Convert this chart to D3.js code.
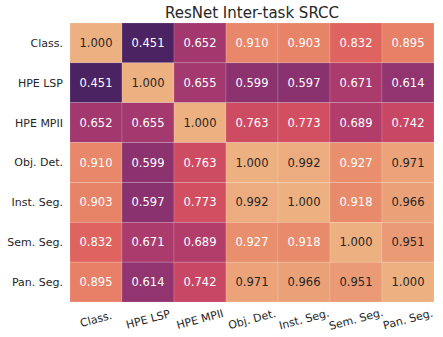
<!DOCTYPE html>
<html>
<head>
<meta charset="utf-8">
<script src="https://cdn.jsdelivr.net/npm/d3@7"></script>
<style>
  body { margin: 0; background: #fff; }
  svg { font-family: 'DejaVu Sans', sans-serif; }
</style>
</head>
<body>
<script>
// task names, same order for rows and columns
const tasks = ['Class.', 'HPE LSP', 'HPE MPII', 'Obj. Det.', 'Inst. Seg.', 'Sem. Seg.', 'Pan. Seg.']

// SRCC matrix, one row per task
const rowClass = [1.000, 0.451, 0.652, 0.910, 0.903, 0.832, 0.895]
const rowLsp = [0.451, 1.000, 0.655, 0.599, 0.597, 0.671, 0.614]
const rowMpii = [0.652, 0.655, 1.000, 0.763, 0.773, 0.689, 0.742]
const rowDet = [0.910, 0.599, 0.763, 1.000, 0.992, 0.927, 0.971]
const rowInst = [0.903, 0.597, 0.773, 0.992, 1.000, 0.918, 0.966]
const rowSem = [0.832, 0.671, 0.689, 0.927, 0.918, 1.000, 0.951]
const rowPan = [0.895, 0.614, 0.742, 0.971, 0.966, 0.951, 1.000]

const matrix = [rowClass, rowLsp, rowMpii, rowDet, rowInst, rowSem, rowPan]

const width = 443
const height = 337
const margin = { top: 23, right: 9, bottom: 35, left: 70 }

const svg = d3.select('body').append('svg')
  .attr('width', width)
  .attr('height', height)

const x = d3.scaleBand().domain(tasks).range([margin.left, width - margin.right])
const y = d3.scaleBand().domain(tasks).range([margin.top, height - margin.bottom])

// approximate seaborn "flare" colormap, reversed (high = light)
const flare = ['#edb081', '#e98d6b', '#e3685c', '#d14a61', '#b13c6c', '#8f3371', '#6c2b6d', '#4b2362']
const flareInterp = d3.interpolateRgbBasis(flare)
const allVals = matrix.flat()
const vmin = d3.min(allVals)
const vmax = d3.max(allVals)
const color = d3.scaleLinear().domain([vmax, vmin]).range([0, 1]).clamp(true)
const fill = v => flareInterp(color(v))

// seaborn's luminance rule for annotation colour
function luminance (c) {
  const rgb = d3.rgb(c)
  const ch = [rgb.r, rgb.g, rgb.b].map(v => {
    v = v / 255
    return v <= 0.03928 ? v / 12.92 : Math.pow((v + 0.055) / 1.055, 2.4)
  })
  return 0.2126 * ch[0] + 0.7152 * ch[1] + 0.0722 * ch[2]
}

const cells = []
matrix.forEach((row, i) => {
  row.forEach((v, j) => cells.push({ r: tasks[i], c: tasks[j], v }))
})

svg.append('g')
  .selectAll('rect')
  .data(cells)
  .join('rect')
  .attr('x', d => x(d.c))
  .attr('y', d => y(d.r))
  .attr('width', x.bandwidth())
  .attr('height', y.bandwidth())
  .attr('fill', d => fill(d.v))
  .attr('stroke', 'rgba(255,255,255,0.25)')
  .attr('stroke-width', 0.6)

svg.append('g')
  .selectAll('text')
  .data(cells)
  .join('text')
  .attr('x', d => x(d.c) + x.bandwidth() / 2)
  .attr('y', d => y(d.r) + y.bandwidth() / 2)
  .attr('dy', '0.36em')
  .attr('text-anchor', 'middle')
  .attr('font-size', 11.5)
  .attr('fill', d => luminance(fill(d.v)) > 0.408 ? '#262626' : '#ffffff')
  .text(d => d3.format('.3f')(d.v))

// y tick labels
svg.append('g')
  .selectAll('text')
  .data(tasks)
  .join('text')
  .attr('x', margin.left - 7)
  .attr('y', d => y(d) + y.bandwidth() / 2)
  .attr('dy', '0.36em')
  .attr('text-anchor', 'end')
  .attr('font-size', 11)
  .attr('fill', '#262626')
  .text(d => d)

// x tick labels, tilted
svg.append('g')
  .selectAll('text')
  .data(tasks)
  .join('text')
  .attr('transform', d => `translate(${x(d) + x.bandwidth() / 2},${height - margin.bottom + 17}) rotate(-15)`)
  .attr('dy', '0.36em')
  .attr('text-anchor', 'middle')
  .attr('font-size', 11)
  .attr('fill', '#262626')
  .text(d => d)

svg.append('text')
  .attr('x', (margin.left + width - margin.right) / 2)
  .attr('y', 18)
  .attr('text-anchor', 'middle')
  .attr('font-size', 15)
  .attr('fill', '#262626')
  .text('ResNet Inter-task SRCC')
</script>
</body>
</html>
